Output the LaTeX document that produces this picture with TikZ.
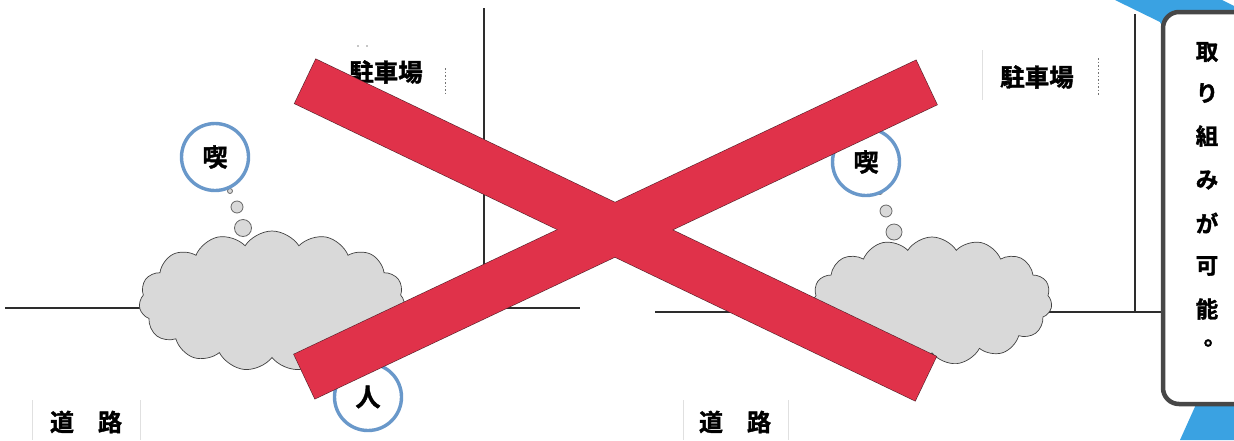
\documentclass[tikz,border=0pt]{standalone}
\usepackage{fontspec}
\newfontfamily\jp{Noto Sans CJK JP Bold}[FakeBold=1.6]
\usetikzlibrary{shapes.symbols}
\definecolor{barred}{RGB}{224,50,74}
\definecolor{baredge}{RGB}{90,35,45}
\definecolor{ringblue}{RGB}{105,152,202}
\definecolor{cloudgray}{RGB}{217,217,217}
\definecolor{ribbon}{RGB}{58,162,226}
\definecolor{plan}{RGB}{45,45,45}
\begin{document}
\begin{tikzpicture}[x=1pt,y=-1pt,
  planline/.style={draw=plan,line width=2.4},
  faint/.style={draw=black!12,line width=0.8},
  dots/.style={draw=black!55,line width=0.8,dash pattern=on 1.5pt off 2pt},
  lbl/.style={font=\jp\fontsize{24.5}{24.5}\selectfont,inner sep=0},
  roadlbl/.style={font=\jp\fontsize{24}{24}\selectfont,inner sep=0},
  ring/.style={circle,draw=ringblue,line width=3.4,fill=white,minimum size=67,inner sep=0,
    font=\jp\fontsize{25}{25}\selectfont},
  puff/.style={circle,draw=black!60,line width=0.8,fill=cloudgray,inner sep=0},
  smoke/.style={cloud,cloud puffs=15,cloud puff arc=115,cloud ignores aspect,
    draw=black!75,line width=0.7,fill=cloudgray},
  barbase/.style={rectangle,minimum width=688,minimum height=49,inner sep=0},
  bar/.style={barbase,draw=baredge,line width=1.2,fill=barred},
  barfill/.style={barbase,fill=barred},
  vtext/.style={font=\jp\fontsize{22.5}{22.5}\selectfont,inner sep=0}]
\useasboundingbox (0,0) rectangle (1234,440);
\fill[white] (0,0) rectangle (1234,440);

% ---- left plan ----
\coordinate (lh1) at (5,308);
\coordinate (lh2) at (580,308);
\coordinate (lv1) at (484,8);
\coordinate (lv2) at (484,310);
\draw[planline] (lh1) -- (lh2);
\draw[planline] (lv1) -- (lv2);

\node[lbl] (parkL) at (386,72) {駐車場};
\coordinate (pLd1) at (445,68);
\coordinate (pLd2) at (445,96);
\draw[dots] (pLd1) -- (pLd2);
\coordinate (pLa) at (358,46);
\coordinate (pLb) at (367,46);
\fill[black!45] (pLa) circle (0.8) (pLb) circle (0.8);

\node[roadlbl] (roadL) at (86,422) {道　路};
\coordinate (rLa1) at (32,400); \coordinate (rLa2) at (32,440);
\coordinate (rLb1) at (140,400); \coordinate (rLb2) at (140,440);
\draw[faint] (rLa1) -- (rLa2) (rLb1) -- (rLb2);

\node[smoke,minimum width=266,minimum height=140] (cloudL) at (272,301) {};
\node[puff,minimum size=17] (bL3) at (243,228) {};
\node[puff,minimum size=12] (bL2) at (237,207) {};
\node[puff,minimum size=5] (bL1) at (230,191) {};
\node[ring] (kissaL) at (215,157) {喫};
\node[ring] (hito) at (368,397) {人};

% ---- right plan ----
\coordinate (rh1) at (655,312);
\coordinate (rh2) at (1165,312);
\coordinate (rv1) at (1135,14);
\coordinate (rv2) at (1135,312);
\draw[planline] (rh1) -- (rh2);
\draw[planline,line width=2] (rv1) -- (rv2);

\node[lbl] (parkR) at (1037,77) {駐車場};
\coordinate (pRd1) at (1098,58);
\coordinate (pRd2) at (1098,96);
\draw[dots] (pRd1) -- (pRd2);
\coordinate (pRf1) at (982,50); \coordinate (pRf2) at (982,100);
\draw[faint] (pRf1) -- (pRf2);

\node[roadlbl] (roadR) at (735,422) {道　路};
\coordinate (rRa1) at (683,400); \coordinate (rRa2) at (683,440);
\coordinate (rRb1) at (788,400); \coordinate (rRb2) at (788,440);
\draw[faint] (rRa1) -- (rRa2) (rRb1) -- (rRb2);

\node[smoke,minimum width=240,minimum height=128] (cloudR) at (932,301) {};
\node[puff,minimum size=16] (bR3) at (894,232) {};
\node[puff,minimum size=12] (bR2) at (886,211) {};
\node[puff,minimum size=5] (bR1) at (880,192) {};
\node[ring] (kissaR) at (866,162) {喫};

% ---- red cross ----
\node[bar,rotate=-25.6] (barA) at (615.5,230) {};
\node[bar,rotate=25.3] (barB) at (615.5,229.5) {};
\node[barfill,rotate=-25.6] at (barA.center) {};
\node[barfill,rotate=25.3] at (barB.center) {};

% ---- side panel with ribbon ----
\fill[ribbon] (1115,0) -- (1222,0) -- (1234,6) -- (1234,40) -- (1168,40) -- (1160,22) -- cycle;
\fill[ribbon] (1198,400) -- (1234,400) -- (1234,440) -- (1180,440) -- cycle;
\node[draw=black!72,line width=4.5,fill=white,rounded corners=16,
      minimum width=110,minimum height=392,inner sep=0] (panel) at (1218,208) {};

\node[vtext] (v1) at (1207,52) {取};
\node[vtext] (v2) at (1207,93) {り};
\node[vtext] (v3) at (1207,136) {組};
\node[vtext] (v4) at (1207,180) {み};
\node[vtext] (v5) at (1207,223) {が};
\node[vtext] (v6) at (1207,266) {可};
\node[vtext] (v7) at (1207,309) {能};
\node[vtext] (v8) at (1215,343) {。};
\end{tikzpicture}
\end{document}
